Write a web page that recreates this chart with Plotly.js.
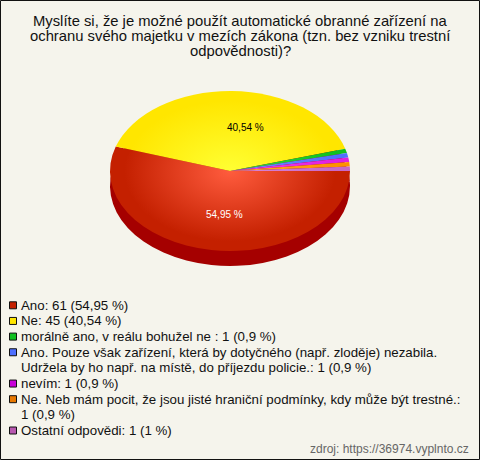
<!DOCTYPE html>
<html>
<head>
<meta charset="utf-8">
<script src="https://cdn.plot.ly/plotly-3.0.1.min.js"></script>
<style>html,body{margin:0;padding:0;background:#f5f4ec}#c{width:480px;height:460px}</style>
</head>
<body>
<div id="c"></div>
<script>
var titleLines = ["Myslíte si, že je možné použít automatické obranné zařízení na","ochranu svého majetku v mezích zákona (tzn. bez vzniku trestní","odpovědnosti)?"];
var categories = ["Ano","Ne","morálně ano, v reálu bohužel ne","Ano. Pouze však zařízení, která by dotyčného (např. zloděje) nezabila.","nevím","Ne. Neb mám pocit, že jsou jisté hraniční podmínky, kdy může být trestné.","Ostatní odpovědi"];
var counts = [61,45,1,1,1,1,1];
var legendTexts = [
 ["Ano: 61 (54,95 %)"],
 ["Ne: 45 (40,54 %)"],
 ["morálně ano, v reálu bohužel ne : 1 (0,9 %)"],
 ["Ano. Pouze však zařízení, která by dotyčného (např. zloděje) nezabila.","Udržela by ho např. na místě, do příjezdu policie.: 1 (0,9 %)"],
 ["nevím: 1 (0,9 %)"],
 ["Ne. Neb mám pocit, že jsou jisté hraniční podmínky, kdy může být trestné.:","1 (0,9 %)"],
 ["Ostatní odpovědi: 1 (1 %)"]
];
var sliceColors = ["#c42000","#ffe600","#10c020","#4f70ff","#e020e0","#ff9000","#c868c8"];
var centerColors = ["#ff5c3e","#ffff33","#30e040","#7090ff","#f040f0","#ffb030","#d888d8"];
var swatchColors = ["#c42000","#ffe600","#10c020","#4f70ff","#c800d8","#e87800","#b858b0"];
var depthColor = "#a50000";
var percentLabels = ["54,95 %","40,54 %"];

var W=480,H=460,cx=230,cy=171,rx=120,squash=80/120,depth=15;
var font="Liberation Sans, Arial, sans-serif";
var dom={x:[(cx-rx)/W,(cx+rx)/W],y:[1-(cy+rx)/H,1-(cy-rx)/H]};

var traces=[
 {type:"pie",labels:categories,values:counts,sort:false,direction:"clockwise",rotation:90,domain:dom,
  textinfo:"none",hoverinfo:"skip",showlegend:false,
  marker:{colors:counts.map(function(){return depthColor;}),line:{width:0}}},
 {type:"pie",labels:categories,values:counts,sort:false,direction:"clockwise",rotation:90,domain:dom,
  textinfo:"none",hoverinfo:"skip",showlegend:false,
  marker:{colors:sliceColors,line:{width:0}}}
];

function textAt(x,y,text,size,color,anchor){
  return {xref:"paper",yref:"paper",x:x/W,y:1-y/H,xanchor:anchor,yanchor:"middle",showarrow:false,borderpad:0,
    text:text,font:{family:font,size:size,color:color}};
}
var annotations=[];
titleLines.forEach(function(t,i){annotations.push(textAt(240,20.5+15.5*i,t,14.8,"#111","center"));});
annotations.push(textAt(224,214,percentLabels[0],10,"#fff","center"));
annotations.push(textAt(246,128,percentLabels[1],10,"#000","center"));
annotations.push(textAt(470,449,"zdroj: https://36974.vyplnto.cz",12,"#666","right"));
var shapes=[];
var lineH=15.65,y=305.3;
legendTexts.forEach(function(lines,i){
  shapes.push({type:"rect",xref:"paper",yref:"paper",x0:9.5/W,x1:16.5/W,y0:1-(y-3.5)/H,y1:1-(y+3.5)/H,
    fillcolor:swatchColors[i],line:{color:"#111",width:1}});
  lines.forEach(function(t){
    annotations.push(textAt(19.5,y,t,13.3,"#111","left"));
    y+=lineH;
  });
});
shapes.push({type:"rect",xref:"paper",yref:"paper",x0:0.5/W,x1:(W-0.5)/W,y0:0.5/H,y1:(H-0.5)/H,line:{color:"#111",width:1},fillcolor:"rgba(0,0,0,0)"});

var layout={width:W,height:H,margin:{l:0,r:0,t:0,b:0},paper_bgcolor:"#f5f4ec",showlegend:false,annotations:annotations,shapes:shapes};

function flatten(gd){
  var svg=gd.querySelector(".main-svg");
  var NS="http://www.w3.org/2000/svg";
  var defs=svg.querySelector("defs");
  sliceColors.forEach(function(col,i){
    var id="sl-grad-"+i;
    if(!svg.querySelector("#"+id)){
      var g=document.createElementNS(NS,"radialGradient");
      g.setAttribute("id",id);g.setAttribute("gradientUnits","userSpaceOnUse");
      g.setAttribute("cx",cx);g.setAttribute("cy",cy);g.setAttribute("r",rx);
      [[0,centerColors[i]],[0.88,col],[1,col]].forEach(function(s){
        var st=document.createElementNS(NS,"stop");st.setAttribute("offset",s[0]);st.setAttribute("stop-color",s[1]);g.appendChild(st);
      });
      defs.appendChild(g);
    }
  });
  var tr=gd.querySelectorAll(".pielayer .trace");
  tr.forEach(function(t,k){
    t.querySelectorAll("path.surface").forEach(function(p,i){
      var dy=k===0?depth:0;
      p.setAttribute("transform","translate("+cx+","+(cy+dy)+") scale(1,"+squash+") translate("+(-cx)+","+(-cy)+")");
      if(k===1){p.style.fill="url(#sl-grad-"+i+")";}
    });
  });
}
Plotly.newPlot("c",traces,layout,{staticPlot:true,displayModeBar:false}).then(function(gd){
  flatten(gd);
  gd.on("plotly_afterplot",function(){flatten(gd);});
});
</script>
</body>
</html>
